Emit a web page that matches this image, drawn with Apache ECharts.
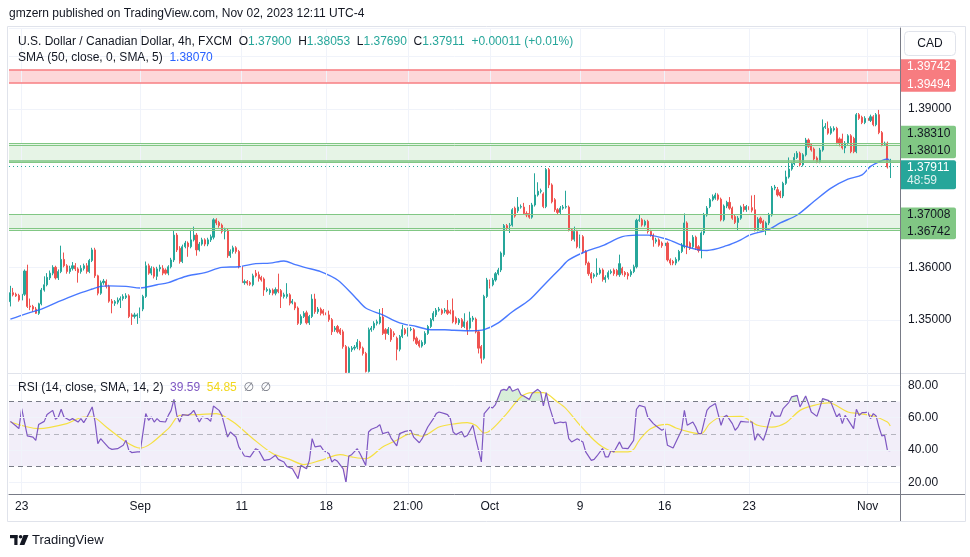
<!DOCTYPE html>
<html><head><meta charset="utf-8">
<script src="https://cdn.jsdelivr.net/npm/echarts@6/dist/echarts.min.js"></script>
<style>html,body{margin:0;padding:0;background:#fff}#c{width:970px;height:557px}</style>
</head><body><div id="c"></div>
<script>
// ---------- DATA ----------
// candles: [open, close, low, high], 4h USDCAD (FXCM), Aug 22 09:00 -> Nov 2 09:00
const segA = [
[1.3535,1.3552,1.3526,1.3565],[1.3552,1.3548,1.3545,1.3561],[1.3549,1.3546,1.3544,1.3552],[1.3547,1.3538,1.3535,1.3550],[1.3538,1.3549,1.3535,1.3552],
[1.3549,1.3593,1.3546,1.3596],[1.3593,1.3526,1.3523,1.3605],[1.3527,1.3525,1.3519,1.3541],[1.3526,1.3521,1.3516,1.3529],[1.3521,1.3513,1.3512,1.3525],
[1.3513,1.3531,1.3510,1.3533],[1.3531,1.3557,1.3528,1.3561],[1.3557,1.3567,1.3554,1.3583],[1.3567,1.3581,1.3564,1.3589],[1.3580,1.3589,1.3576,1.3594],
[1.3589,1.3600,1.3585,1.3604],[1.3600,1.3580,1.3577,1.3603],[1.3580,1.3592,1.3576,1.3596],[1.3592,1.3615,1.3589,1.3641],[1.3615,1.3603,1.3600,1.3628],
[1.3603,1.3592,1.3588,1.3606],[1.3592,1.3598,1.3588,1.3603],[1.3598,1.3603,1.3594,1.3610],[1.3603,1.3597,1.3593,1.3608],[1.3597,1.3590,1.3571,1.3600],
[1.3592,1.3598,1.3588,1.3604],[1.3598,1.3603,1.3594,1.3607],[1.3603,1.3592,1.3588,1.3608],[1.3592,1.3613,1.3589,1.3616],[1.3613,1.3633,1.3610,1.3637],
[1.3633,1.3584,1.3580,1.3637],[1.3584,1.3551,1.3547,1.3586],[1.3551,1.3571,1.3548,1.3575],[1.3571,1.3574,1.3567,1.3578],[1.3573,1.3564,1.3560,1.3577],
[1.3564,1.3536,1.3533,1.3567],[1.3536,1.3532,1.3513,1.3540],[1.3532,1.3535,1.3527,1.3538],[1.3534,1.3538,1.3530,1.3543],[1.3538,1.3541,1.3523,1.3545],
[1.3541,1.3545,1.3537,1.3549],[1.3543,1.3546,1.3540,1.3551],[1.3546,1.3507,1.3504,1.3549],[1.3510,1.3507,1.3491,1.3513],[1.3507,1.3510,1.3503,1.3514],
[1.3508,1.3510,1.3493,1.3513],[1.3507,1.3521,1.3504,1.3524],[1.3521,1.3545,1.3517,1.3548],[1.3545,1.3603,1.3542,1.3611],[1.3603,1.3589,1.3586,1.3607],
[1.3589,1.3598,1.3585,1.3602],[1.3598,1.3583,1.3579,1.3601],[1.3583,1.3597,1.3576,1.3601]
];
const segB = [
[1.3597,1.3600,1.3592,1.3605],[1.3598,1.3589,1.3585,1.3604],[1.3595,1.3589,1.3586,1.3598],[1.3589,1.3601,1.3585,1.3604],[1.3601,1.3614,1.3598,1.3618],
[1.3614,1.3661,1.3610,1.3669],[1.3661,1.3633,1.3629,1.3665],[1.3636,1.3611,1.3607,1.3640],[1.3611,1.3639,1.3608,1.3643],[1.3639,1.3646,1.3636,1.3650],
[1.3646,1.3639,1.3620,1.3649],[1.3639,1.3652,1.3636,1.3671],[1.3652,1.3661,1.3649,1.3677],[1.3661,1.3633,1.3622,1.3665],[1.3633,1.3644,1.3630,1.3648],
[1.3644,1.3652,1.3641,1.3656],[1.3652,1.3644,1.3640,1.3655],[1.3644,1.3652,1.3640,1.3656],[1.3652,1.3658,1.3648,1.3662],[1.3657,1.3690,1.3653,1.3693],
[1.3690,1.3684,1.3680,1.3693],[1.3685,1.3679,1.3675,1.3688],[1.3680,1.3668,1.3664,1.3683],[1.3668,1.3671,1.3653,1.3675],[1.3670,1.3622,1.3618,1.3673],
[1.3622,1.3630,1.3618,1.3634],[1.3630,1.3637,1.3626,1.3641],[1.3637,1.3630,1.3626,1.3640],[1.3630,1.3601,1.3598,1.3633],[1.3601,1.3571,1.3564,1.3604],
[1.3571,1.3573,1.3567,1.3577],[1.3573,1.3570,1.3566,1.3576],[1.3571,1.3568,1.3565,1.3574],[1.3567,1.3584,1.3564,1.3588],[1.3589,1.3584,1.3581,1.3595],
[1.3586,1.3579,1.3573,1.3592],[1.3581,1.3576,1.3573,1.3584],[1.3578,1.3557,1.3546,1.3581],[1.3556,1.3558,1.3553,1.3562],[1.3552,1.3557,1.3548,1.3560],
[1.3557,1.3551,1.3547,1.3560],[1.3551,1.3558,1.3547,1.3562],[1.3558,1.3554,1.3551,1.3588],[1.3556,1.3545,1.3523,1.3559],[1.3545,1.3548,1.3541,1.3552],
[1.3545,1.3549,1.3541,1.3570],[1.3548,1.3532,1.3528,1.3551],[1.3533,1.3536,1.3530,1.3540],[1.3533,1.3523,1.3519,1.3535],[1.3523,1.3494,1.3491,1.3526],
[1.3494,1.3507,1.3491,1.3511],[1.3507,1.3513,1.3504,1.3517]
];
const segC = [
[1.3514,1.3495,1.3492,1.3518],[1.3495,1.3507,1.3491,1.3510],[1.3507,1.3540,1.3504,1.3549],[1.3540,1.3516,1.3512,1.3550],[1.3516,1.3521,1.3512,1.3525],
[1.3521,1.3513,1.3509,1.3524],[1.3518,1.3513,1.3509,1.3521],[1.3514,1.3510,1.3505,1.3518],[1.3510,1.3501,1.3497,1.3518],[1.3501,1.3478,1.3472,1.3504],
[1.3482,1.3485,1.3478,1.3489],[1.3488,1.3478,1.3475,1.3491],[1.3482,1.3475,1.3472,1.3485],[1.3478,1.3450,1.3446,1.3482],[1.3450,1.3401,1.3400,1.3453],
[1.3401,1.3447,1.3400,1.3450],[1.3444,1.3447,1.3440,1.3451],[1.3447,1.3449,1.3443,1.3453],[1.3449,1.3458,1.3445,1.3464],[1.3458,1.3447,1.3443,1.3461],
[1.3447,1.3437,1.3433,1.3450],[1.3437,1.3403,1.3401,1.3440],[1.3403,1.3482,1.3401,1.3486],[1.3482,1.3485,1.3478,1.3489],[1.3485,1.3494,1.3481,1.3498],
[1.3494,1.3497,1.3490,1.3501],[1.3495,1.3506,1.3492,1.3521],[1.3506,1.3475,1.3472,1.3523],[1.3482,1.3475,1.3463,1.3485],[1.3475,1.3483,1.3472,1.3487],
[1.3482,1.3463,1.3459,1.3485],[1.3475,1.3472,1.3468,1.3479],[1.3466,1.3445,1.3424,1.3469],[1.3445,1.3469,1.3441,1.3472],[1.3469,1.3482,1.3466,1.3491],
[1.3482,1.3475,1.3472,1.3485],[1.3472,1.3482,1.3469,1.3486],[1.3482,1.3483,1.3479,1.3487],[1.3482,1.3464,1.3460,1.3485],[1.3466,1.3456,1.3453,1.3469],
[1.3460,1.3451,1.3448,1.3463],[1.3451,1.3458,1.3448,1.3462],[1.3456,1.3475,1.3453,1.3479],[1.3475,1.3488,1.3472,1.3491],[1.3488,1.3501,1.3485,1.3504],
[1.3501,1.3513,1.3498,1.3517],[1.3510,1.3519,1.3506,1.3523],[1.3519,1.3521,1.3516,1.3525],[1.3519,1.3513,1.3510,1.3522],[1.3517,1.3519,1.3513,1.3523],
[1.3519,1.3513,1.3510,1.3538],[1.3516,1.3514,1.3511,1.3520]
];
const segD = [
[1.3518,1.3497,1.3494,1.3541],[1.3504,1.3495,1.3492,1.3507],[1.3495,1.3501,1.3491,1.3504],[1.3501,1.3488,1.3485,1.3504],[1.3488,1.3497,1.3485,1.3513],
[1.3496,1.3482,1.3472,1.3499],[1.3485,1.3504,1.3482,1.3516],[1.3501,1.3504,1.3497,1.3508],[1.3502,1.3478,1.3475,1.3505],[1.3478,1.3447,1.3437,1.3481],
[1.3450,1.3428,1.3418,1.3453],[1.3428,1.3545,1.3425,1.3548],[1.3545,1.3576,1.3542,1.3580],[1.3573,1.3564,1.3560,1.3577],[1.3567,1.3576,1.3564,1.3580],
[1.3576,1.3588,1.3573,1.3591],[1.3588,1.3595,1.3585,1.3599],[1.3595,1.3627,1.3591,1.3630],[1.3624,1.3679,1.3620,1.3682],[1.3679,1.3674,1.3671,1.3682],
[1.3679,1.3680,1.3665,1.3684],[1.3680,1.3709,1.3677,1.3712],[1.3712,1.3697,1.3694,1.3715],[1.3707,1.3714,1.3703,1.3733],[1.3714,1.3715,1.3711,1.3719],
[1.3714,1.3702,1.3699,1.3722],[1.3702,1.3699,1.3695,1.3706],[1.3702,1.3695,1.3692,1.3718],[1.3695,1.3718,1.3692,1.3722],[1.3718,1.3737,1.3715,1.3778],
[1.3737,1.3744,1.3734,1.3761],[1.3744,1.3745,1.3740,1.3749],[1.3739,1.3715,1.3712,1.3742],[1.3715,1.3785,1.3712,1.3788],[1.3785,1.3756,1.3750,1.3788],
[1.3756,1.3724,1.3721,1.3759],[1.3728,1.3709,1.3705,1.3731],[1.3709,1.3704,1.3700,1.3712],[1.3704,1.3712,1.3700,1.3716],[1.3712,1.3714,1.3709,1.3718],
[1.3714,1.3715,1.3711,1.3745],[1.3714,1.3671,1.3668,1.3717],[1.3671,1.3653,1.3650,1.3674],[1.3653,1.3668,1.3649,1.3677],[1.3668,1.3639,1.3636,1.3671],
[1.3639,1.3658,1.3636,1.3662],[1.3658,1.3630,1.3626,1.3661],[1.3630,1.3608,1.3604,1.3633],[1.3608,1.3588,1.3584,1.3611],[1.3588,1.3579,1.3570,1.3591],
[1.3583,1.3586,1.3579,1.3589],[1.3586,1.3589,1.3582,1.3617],[1.3589,1.3595,1.3586,1.3599]
];
const segE = [
[1.3595,1.3577,1.3573,1.3598],[1.3577,1.3581,1.3571,1.3585],[1.3581,1.3590,1.3577,1.3594],[1.3590,1.3592,1.3587,1.3596],[1.3595,1.3588,1.3584,1.3598],
[1.3594,1.3586,1.3583,1.3597],[1.3586,1.3607,1.3582,1.3624],[1.3598,1.3589,1.3585,1.3601],[1.3590,1.3586,1.3582,1.3593],[1.3588,1.3584,1.3577,1.3591],
[1.3586,1.3592,1.3582,1.3596],[1.3592,1.3601,1.3589,1.3605],[1.3601,1.3689,1.3598,1.3692],[1.3689,1.3690,1.3686,1.3699],[1.3690,1.3680,1.3677,1.3693],
[1.3680,1.3687,1.3677,1.3690],[1.3687,1.3668,1.3664,1.3690],[1.3668,1.3661,1.3658,1.3671],[1.3661,1.3652,1.3639,1.3664],[1.3649,1.3652,1.3645,1.3656],
[1.3652,1.3642,1.3639,1.3655],[1.3646,1.3641,1.3637,1.3649],[1.3641,1.3646,1.3637,1.3650],[1.3646,1.3614,1.3611,1.3649],[1.3614,1.3608,1.3604,1.3617],
[1.3611,1.3608,1.3604,1.3614],[1.3608,1.3615,1.3604,1.3619],[1.3614,1.3630,1.3611,1.3633],[1.3630,1.3642,1.3627,1.3646],[1.3639,1.3684,1.3636,1.3702],
[1.3684,1.3639,1.3625,1.3687],[1.3646,1.3636,1.3633,1.3649],[1.3639,1.3657,1.3636,1.3661],[1.3657,1.3636,1.3633,1.3660],[1.3639,1.3632,1.3628,1.3642],
[1.3633,1.3665,1.3617,1.3668],[1.3665,1.3699,1.3661,1.3703],[1.3699,1.3712,1.3696,1.3716],[1.3715,1.3728,1.3712,1.3731],[1.3728,1.3734,1.3725,1.3738],
[1.3731,1.3737,1.3728,1.3741],[1.3737,1.3729,1.3726,1.3740],[1.3729,1.3690,1.3687,1.3732],[1.3690,1.3716,1.3687,1.3719],[1.3716,1.3723,1.3712,1.3726],
[1.3723,1.3712,1.3709,1.3733],[1.3712,1.3693,1.3690,1.3715],[1.3696,1.3685,1.3682,1.3699],[1.3685,1.3693,1.3670,1.3697],[1.3693,1.3714,1.3690,1.3717],
[1.3715,1.3709,1.3705,1.3720],[1.3709,1.3715,1.3705,1.3718]
];
const segF = [
[1.3715,1.3709,1.3705,1.3736],[1.3713,1.3708,1.3704,1.3736],[1.3709,1.3671,1.3668,1.3737],[1.3671,1.3691,1.3668,1.3695],[1.3693,1.3685,1.3682,1.3696],
[1.3687,1.3671,1.3668,1.3690],[1.3671,1.3684,1.3661,1.3687],[1.3684,1.3699,1.3680,1.3703],[1.3699,1.3750,1.3696,1.3754],[1.3750,1.3752,1.3746,1.3756],
[1.3747,1.3737,1.3734,1.3752],[1.3742,1.3735,1.3731,1.3745],[1.3735,1.3759,1.3731,1.3762],[1.3759,1.3771,1.3756,1.3783],[1.3771,1.3786,1.3768,1.3808],
[1.3786,1.3796,1.3783,1.3800],[1.3796,1.3808,1.3793,1.3816],[1.3808,1.3816,1.3805,1.3820],[1.3816,1.3794,1.3791,1.3819],[1.3794,1.3813,1.3791,1.3816],
[1.3813,1.3841,1.3810,1.3845],[1.3841,1.3829,1.3826,1.3844],[1.3832,1.3822,1.3819,1.3835],[1.3824,1.3805,1.3802,1.3827],[1.3807,1.3800,1.3797,1.3810],
[1.3800,1.3822,1.3797,1.3826],[1.3822,1.3865,1.3819,1.3880],[1.3865,1.3867,1.3862,1.3873],[1.3863,1.3854,1.3851,1.3876],[1.3854,1.3863,1.3851,1.3867],
[1.3860,1.3863,1.3857,1.3867],[1.3863,1.3836,1.3833,1.3866],[1.3843,1.3835,1.3829,1.3846],[1.3843,1.3826,1.3823,1.3853],[1.3826,1.3835,1.3816,1.3839],
[1.3835,1.3849,1.3832,1.3852],[1.3849,1.3819,1.3816,1.3852],[1.3844,1.3819,1.3816,1.3847],[1.3819,1.3889,1.3816,1.3892],[1.3889,1.3882,1.3879,1.3892],
[1.3884,1.3874,1.3871,1.3887],[1.3874,1.3882,1.3871,1.3886],[1.3882,1.3878,1.3875,1.3885],[1.3878,1.3885,1.3875,1.3889],[1.3885,1.3870,1.3867,1.3888],
[1.3870,1.3889,1.3867,1.3892],[1.3889,1.3855,1.3852,1.3898],[1.3855,1.3832,1.3829,1.3858],[1.3833,1.3835,1.3830,1.3838],[1.3835,1.3790,1.3787,1.3838],
[1.37900,1.37911,1.37690,1.38053]
];
// SMA (50, close, 0, SMA, 5): [candle index, value]
const smaPts = [[0,1.3502],[6,1.3513],[11,1.3521],[17,1.3535],[23,1.3548],[29,1.3559],[32,1.3564],[35,1.3565],[41,1.3564],[46,1.3561],[52,1.3567],[56,1.3571],[59,1.3577],[63,1.3584],[69,1.3590],[75,1.3600],[81,1.3601],[87,1.3607],[92,1.3608],[97,1.3612],[101,1.3605],[105,1.3599],[110,1.3592],[116,1.3576],[122,1.3545],[126,1.3523],[132,1.3510],[138,1.3495],[144,1.3488],[149,1.3482],[154,1.3482],[157,1.3481],[164,1.3480],[168,1.3482],[173,1.3495],[178,1.3516],[184,1.3538],[190,1.3571],[195,1.3598],[198,1.3614],[204,1.3630],[210,1.3641],[217,1.3658],[222,1.3661],[226,1.3661],[233,1.3653],[238,1.3642],[244,1.3633],[247,1.3632],[254,1.3641],[259,1.3652],[262,1.3661],[269,1.3672],[273,1.3684],[279,1.3699],[285,1.3725],[291,1.3750],[297,1.3767],[302,1.3775],[305,1.3791],[309,1.3802],[311,1.3805],[312,1.3800]];
// RSI (14) and its SMA(14): [candle index, value]
const rsiPts = [[0,57.7],[2,54.8],[3,53.2],[4,65.6],[6,48.7],[8,48.0],[9,46.0],[10,55.7],[12,57.7],[13,61.9],[15,64.5],[16,59.0],[17,60.4],[18,65.2],[19,60.4],[21,58.4],[22,59.4],[24,57.3],[25,59.4],[26,56.9],[27,59.8],[29,66.6],[30,57.7],[31,43.9],[32,47.0],[33,45.0],[35,41.2],[36,40.4],[38,40.8],[40,42.9],[41,46.0],[42,39.8],[43,38.4],[45,38.8],[46,38.8],[48,62.5],[49,58.4],[50,60.4],[51,57.3],[52,59.4],[53,57.7],[55,57.3],[56,61.4],[57,64.5],[58,71.3],[59,61.4],[60,57.3],[61,61.9],[63,61.4],[64,62.5],[65,64.5],[67,57.3],[68,60.4],[70,59.4],[71,57.7],[72,67.2],[74,64.5],[75,61.4],[77,48.0],[78,51.1],[80,48.0],[81,41.9],[83,36.3],[85,35.7],[87,40.8],[88,39.8],[90,33.6],[92,34.2],[94,36.7],[95,34.2],[97,32.6],[98,29.9],[100,28.4],[102,22.3],[103,30.5],[105,28.4],[106,33.6],[107,47.0],[108,41.9],[110,42.5],[111,39.8],[113,37.7],[114,32.6],[115,34.2],[116,33.0],[118,28.4],[119,19.8],[120,36.3],[121,37.1],[123,40.8],[124,37.7],[126,30.5],[127,51.1],[128,52.8],[130,54.2],[131,55.7],[132,50.1],[134,51.1],[135,47.4],[137,42.5],[138,50.1],[140,51.5],[142,52.2],[143,48.0],[145,44.5],[146,47.0],[148,54.2],[150,59.4],[151,62.5],[152,63.5],[154,62.5],[155,61.9],[156,59.4],[157,51.1],[158,49.5],[160,51.5],[161,48.0],[162,49.0],[164,55.3],[165,47.0],[167,32.6],[168,62.5],[170,66.6],[171,66.0],[172,68.1],[174,76.9],[175,77.5],[176,76.9],[177,79.6],[178,76.3],[180,77.9],[181,74.2],[182,73.4],[184,71.3],[185,74.9],[187,77.5],[188,75.9],[189,67.2],[190,75.5],[191,67.6],[193,56.3],[195,57.3],[196,56.9],[197,57.3],[198,47.0],[199,45.0],[201,47.0],[203,45.0],[204,38.8],[206,33.6],[207,34.2],[208,36.3],[210,41.0],[211,35.7],[212,35.7],[213,39.8],[214,38.8],[216,45.0],[217,41.2],[219,40.8],[221,46.0],[222,65.2],[223,67.6],[225,66.6],[226,60.4],[228,56.3],[229,54.8],[231,52.2],[232,53.2],[233,42.9],[235,41.2],[236,45.0],[238,52.2],[239,64.5],[240,55.3],[242,57.3],[243,54.2],[244,50.1],[245,50.1],[247,64.5],[248,66.6],[249,67.6],[250,68.7],[252,55.3],[253,60.4],[254,61.4],[256,56.3],[257,52.2],[258,54.2],[259,57.7],[261,57.3],[263,57.3],[264,46.0],[265,50.1],[267,46.0],[268,51.1],[270,63.9],[271,61.0],[273,61.0],[274,65.6],[276,69.3],[277,72.8],[279,73.8],[280,66.6],[282,73.4],[283,68.7],[284,63.5],[286,60.8],[287,66.0],[288,71.8],[290,70.7],[291,69.3],[293,60.4],[294,62.5],[295,56.3],[296,61.4],[299,53.2],[300,65.2],[301,61.4],[302,63.1],[303,63.1],[304,63.5],[305,59.4],[306,62.5],[307,61.0],[308,54.2],[309,48.7],[310,49.1],[311,39.8],[312,39.59]];
const rsiMaPts = [[0,57.3],[10,53.2],[20,56.3],[26,60.4],[29,60.4],[34,54.2],[41,45.0],[46,41.2],[56,53.2],[60,61.4],[67,61.9],[73,62.5],[79,57.3],[86,47.0],[93,37.8],[99,34.2],[104,31.0],[110,33.6],[117,37.1],[121,35.7],[126,34.6],[132,41.9],[137,46.0],[142,50.1],[146,48.5],[152,54.2],[158,56.3],[162,56.9],[165,55.3],[168,50.5],[171,53.2],[176,62.5],[181,72.8],[185,75.5],[189,75.5],[194,69.7],[197,65.6],[202,55.3],[207,46.0],[210,41.9],[214,38.8],[219,38.8],[221,40.4],[223,46.0],[227,53.2],[233,55.9],[236,53.6],[241,51.1],[245,50.1],[248,56.3],[252,60.4],[259,60.8],[265,55.3],[270,54.2],[275,56.9],[280,64.5],[285,67.6],[290,69.1],[292,68.3],[297,63.5],[301,62.5],[306,61.0],[311,57.3],[312,54.85]];
// drawn zones / levels
const zoneRed = [1.39494, 1.39742];
const zoneG1 = [1.3801, 1.3831];
const zoneG1Extra = [1.3798, 1.3835];
const zoneG2 = [1.36742, 1.37008];
const zoneG2Extra = [1.3670];
const lastPrice = 1.37911;
const smaLast = '1.38070';
// axis ticks
const xTickIdx = [4, 46, 82, 112, 141, 170, 202, 232, 262, 304];
const xTickText = ['23', 'Sep', '11', '18', '21:00', 'Oct', '9', '16', '23', 'Nov'];
const yPriceLabels = [1.35, 1.36, 1.39];
const rsiTicks = [20, 40, 60, 80];
const rsiBands = [30, 50, 70];

// ---------- CHART ----------
const FONT = '"Liberation Sans", "DejaVu Sans", Arial, sans-serif';
const candles = [].concat(segA, segB, segC, segD, segE, segF);
const NCAT = 316;
const cats = Array.from({length: NCAT}, (_, i) => String(i));
const GW = NCAT * 2.82;
const UP = '#26a69a', DN = '#ef5350';
const last = candles[candles.length - 1];

const chart = echarts.init(document.getElementById('c'));
const vGrid = xTickIdx.map(i => ({xAxis: i, lineStyle: {color: '#f0f3fa', width: 1, type: 'solid'}}));
const hl = (v, c, w, t) => ({yAxis: v, lineStyle: {color: c, width: w || 1, type: t || 'solid'}});
const rs = (c) => ({fontSize: 12, fontWeight: 'normal', color: c, lineHeight: 14, fontFamily: FONT});

const option = {
  animation: false,
  backgroundColor: '#ffffff',
  textStyle: {fontFamily: FONT},
  title: [
    {text: 'gmzern published on TradingView.com, Nov 02, 2023 12:11 UTC-4', left: 9, top: 7, padding: 0,
     textStyle: rs('#131722')},
    {text: '{t|U.S. Dollar / Canadian Dollar, 4h, FXCM}  {t|O}{v|' + last[0].toFixed(5) + '}  {t|H}{v|' + last[3].toFixed(5) +
           '}  {t|L}{v|' + last[2].toFixed(5) + '}  {t|C}{v|' + last[1].toFixed(5) + '}  {v|+' + (last[1] - last[0]).toFixed(5) + ' (+0.01%)}',
     left: 18, top: 35, padding: 0,
     textStyle: Object.assign(rs('#131722'), {rich: {t: rs('#131722'), v: rs(UP)}})},
    {text: '{t|SMA (50, close, 0, SMA, 5)}  {b|' + smaLast + '}', left: 18, top: 51, padding: 0,
     textStyle: Object.assign(rs('#131722'), {rich: {t: rs('#131722'), b: rs('#2962ff')}})},
    {text: '{t|RSI (14, close, SMA, 14, 2)}  {p|' + rsiPts[rsiPts.length - 1][1].toFixed(2) + '}  {y|' + rsiMaPts[rsiMaPts.length - 1][1].toFixed(2) + '}  {g|\u2205  \u2205}',
     left: 18, top: 381, padding: 0,
     textStyle: Object.assign(rs('#131722'), {rich: {t: rs('#131722'), p: rs('#7e57c2'), y: rs('#f2d71d'), g: rs('#787b86')}})}
  ],
  grid: [
    {left: 9, top: 28, width: GW, height: 345},
    {left: 9, top: 373, width: GW, height: 121}
  ],
  xAxis: [
    {type: 'category', gridIndex: 0, data: cats, boundaryGap: true, axisLine: {show: false, onZero: false}, axisTick: {show: false}, axisLabel: {show: false}, splitLine: {show: false}},
    {type: 'category', gridIndex: 1, data: cats, boundaryGap: true, axisLine: {show: true, onZero: false, lineStyle: {color: '#787b86'}}, axisTick: {show: false},
     axisLabel: {color: '#131722', fontSize: 12, margin: 7, hideOverlap: false,
       interval: (i) => xTickIdx.indexOf(i) >= 0,
       formatter: (v, i) => { const k = xTickIdx.indexOf(i); return k >= 0 ? xTickText[k] : ''; }},
     splitLine: {show: false}}
  ],
  yAxis: [
    {type: 'value', gridIndex: 0, position: 'right', min: 1.34, max: 1.4053, interval: 0.01,
     axisLine: {show: true, lineStyle: {color: '#787b86'}}, axisTick: {show: false},
     axisLabel: {color: '#131722', fontSize: 12, margin: 8, showMinLabel: false, showMaxLabel: false,
       formatter: (v) => yPriceLabels.some(t => Math.abs(t - v) < 1e-6) ? v.toFixed(5) : ''},
     splitLine: {show: true, lineStyle: {color: '#f0f3fa'}}},
    {type: 'value', gridIndex: 1, position: 'right', min: 12.8, max: 87.6,
     axisLine: {show: true, lineStyle: {color: '#787b86'}}, axisTick: {show: false},
     axisLabel: {color: '#131722', fontSize: 12, margin: 8, customValues: rsiTicks, formatter: (v) => v.toFixed(2)},
     splitLine: {show: false}}
  ],
  visualMap: [{
    type: 'piecewise', show: false, seriesIndex: 4, dimension: 1,
    pieces: [{gt: 70, color: 'rgba(76,175,80,0.22)'}, {gte: 30, lte: 70, color: 'rgba(255,255,255,0)'}, {lt: 30, color: 'rgba(242,54,69,0.12)'}]
  }],
  series: [
    { // 0: main-pane drawings (zones, levels, grid)
      type: 'line', xAxisIndex: 0, yAxisIndex: 0, data: [], z: 1, silent: true,
      markArea: {silent: true, data: [
        [{yAxis: zoneRed[0], itemStyle: {color: 'rgba(247,124,128,0.3)'}}, {yAxis: zoneRed[1]}],
        [{yAxis: zoneG1Extra[0], itemStyle: {color: 'rgba(129,199,132,0.2)'}}, {yAxis: zoneG1Extra[1]}],
        [{yAxis: zoneG2Extra[0], itemStyle: {color: 'rgba(129,199,132,0.2)'}}, {yAxis: zoneG2[1]}]
      ]},
      markLine: {silent: true, precision: 6, symbol: ['none', 'none'], label: {show: false}, emphasis: {disabled: true},
        data: vGrid.concat([
          hl(zoneRed[0], '#f77c80', 1.5), hl(zoneRed[1], '#f77c80', 1.5),
          hl(zoneG1[0], '#81c784', 1.5), hl(zoneG1[1], '#81c784', 1), hl(zoneG1Extra[0], '#81c784', 1), hl(zoneG1Extra[1], '#81c784', 1),
          hl(zoneG2[0], '#81c784', 1), hl(zoneG2[1], '#81c784', 1), hl(zoneG2Extra[0], '#81c784', 1),
          hl(lastPrice, UP, 1, [1, 3])
        ])}
    },
    { // 1: candles
      type: 'candlestick', xAxisIndex: 0, yAxisIndex: 0, data: candles, barWidth: 1.6, z: 3,
      itemStyle: {color: UP, color0: DN, borderColor: UP, borderColor0: DN, borderWidth: 1}
    },
    { // 2: SMA
      type: 'line', xAxisIndex: 0, yAxisIndex: 0, data: smaPts, showSymbol: false, smooth: 0.3, z: 4,
      lineStyle: {color: '#2962ff', width: 1.4, opacity: 0.85}
    },
    { // 3: RSI pane drawings
      type: 'line', xAxisIndex: 1, yAxisIndex: 1, data: [], z: 1, silent: true,
      markArea: {silent: true, data: [[{yAxis: rsiBands[0], itemStyle: {color: 'rgba(126,87,194,0.1)'}}, {yAxis: rsiBands[2]}]]},
      markLine: {silent: true, precision: 4, symbol: ['none', 'none'], label: {show: false}, emphasis: {disabled: true},
        data: vGrid.concat(rsiTicks.map(v => hl(v, '#f0f3fa', 1)), [
          hl(rsiBands[2], '#787b86', 1, [5, 4]), hl(rsiBands[1], 'rgba(120,123,134,0.5)', 1, [5, 4]), hl(rsiBands[0], '#787b86', 1, [5, 4])
        ])}
    },
    { // 4: RSI overbought / oversold fill
      type: 'line', xAxisIndex: 1, yAxisIndex: 1, data: rsiPts, showSymbol: false, silent: true, z: 2,
      lineStyle: {width: 0, opacity: 0}, areaStyle: {origin: 70, opacity: 1}
    },
    { // 5: RSI MA
      type: 'line', xAxisIndex: 1, yAxisIndex: 1, data: rsiMaPts, showSymbol: false, smooth: 0.3, z: 3,
      lineStyle: {color: '#f5e042', width: 1.2}
    },
    { // 6: RSI
      type: 'line', xAxisIndex: 1, yAxisIndex: 1, data: rsiPts, showSymbol: false, z: 4,
      lineStyle: {color: '#7e57c2', width: 1.2}
    }
  ]
};
chart.setOption(option);

// ---------- STATIC FRAME + PRICE TAGS ----------
const py = v => chart.convertToPixel({yAxisIndex: 0}, v);
const els = [];
els.push({type: 'rect', shape: {x: 7.5, y: 26.5, width: 958, height: 495}, style: {fill: 'none', stroke: '#e0e3eb', lineWidth: 1}, silent: true});
els.push({type: 'line', shape: {x1: 7, y1: 373.5, x2: 965, y2: 373.5}, style: {stroke: '#e0e3eb', lineWidth: 1}, silent: true});
els.push({type: 'line', shape: {x1: 900.5, y1: 494, x2: 900.5, y2: 521}, style: {stroke: '#787b86', lineWidth: 1}, silent: true});
els.push({type: 'line', shape: {x1: 900, y1: 494.5, x2: 965, y2: 494.5}, style: {stroke: '#787b86', lineWidth: 1}, silent: true});
// CAD unit button
els.push({type: 'rect', shape: {x: 904.5, y: 31.5, width: 51, height: 24, r: 4}, style: {fill: '#fff', stroke: '#e0e3eb', lineWidth: 1}, silent: true});
els.push({type: 'text', x: 930, y: 43.5, style: {text: 'CAD', fill: '#131722', font: '12px ' + FONT, align: 'center', verticalAlign: 'middle'}, silent: true});
// price tags
const tagGroups = [
  {vals: [zoneRed[1], zoneRed[0]], nudge: [-3, 1.5], bg: '#f77c80', fg: '#ffffff'},
  {vals: [zoneG1[1], zoneG1[0]], nudge: [-12, -10.4], bg: '#81c784', fg: '#131722'},
  {vals: [lastPrice], nudge: [1.3], bg: UP, fg: '#ffffff', extra: '48:59'},
  {vals: [zoneG2[1], zoneG2[0]], nudge: [0.9, 3.6], bg: '#81c784', fg: '#131722'}
];
tagGroups.forEach(g => {
  const ys = g.vals.map((v, k) => py(v) + g.nudge[k]);
  const top = ys[0] - 7.5;
  const bottom = ys[ys.length - 1] + (g.extra ? 21.5 : 7.5);
  els.push({type: 'rect', shape: {x: 901, y: top, width: 55, height: bottom - top, r: [0, 2, 2, 0]}, style: {fill: g.bg}, silent: true, z: 10});
  g.vals.forEach((v, k) => {
    els.push({type: 'text', x: 907, y: ys[k], style: {text: v.toFixed(5), fill: g.fg, font: '12px ' + FONT, verticalAlign: 'middle'}, silent: true, z: 11});
  });
  if (g.extra) els.push({type: 'text', x: 907, y: ys[0] + 13.5, style: {text: g.extra, fill: 'rgba(255,255,255,0.85)', font: '12px ' + FONT, verticalAlign: 'middle'}, silent: true, z: 11});
});
// TradingView logo
els.push({type: 'rect', shape: {x: 10, y: 535, width: 7.5, height: 3.2}, style: {fill: '#131722'}, silent: true});
els.push({type: 'rect', shape: {x: 14.3, y: 535, width: 3.2, height: 10}, style: {fill: '#131722'}, silent: true});
els.push({type: 'circle', shape: {cx: 20.6, cy: 536.8, r: 1.8}, style: {fill: '#131722'}, silent: true});
els.push({type: 'polygon', shape: {points: [[23.5, 535], [28.5, 535], [24.4, 545], [19.6, 545]]}, style: {fill: '#131722'}, silent: true});
els.push({type: 'text', x: 32, y: 540, style: {text: 'TradingView', fill: '#131722', font: '13px ' + FONT, verticalAlign: 'middle'}, silent: true});
chart.setOption({graphic: els});
</script></body></html>
